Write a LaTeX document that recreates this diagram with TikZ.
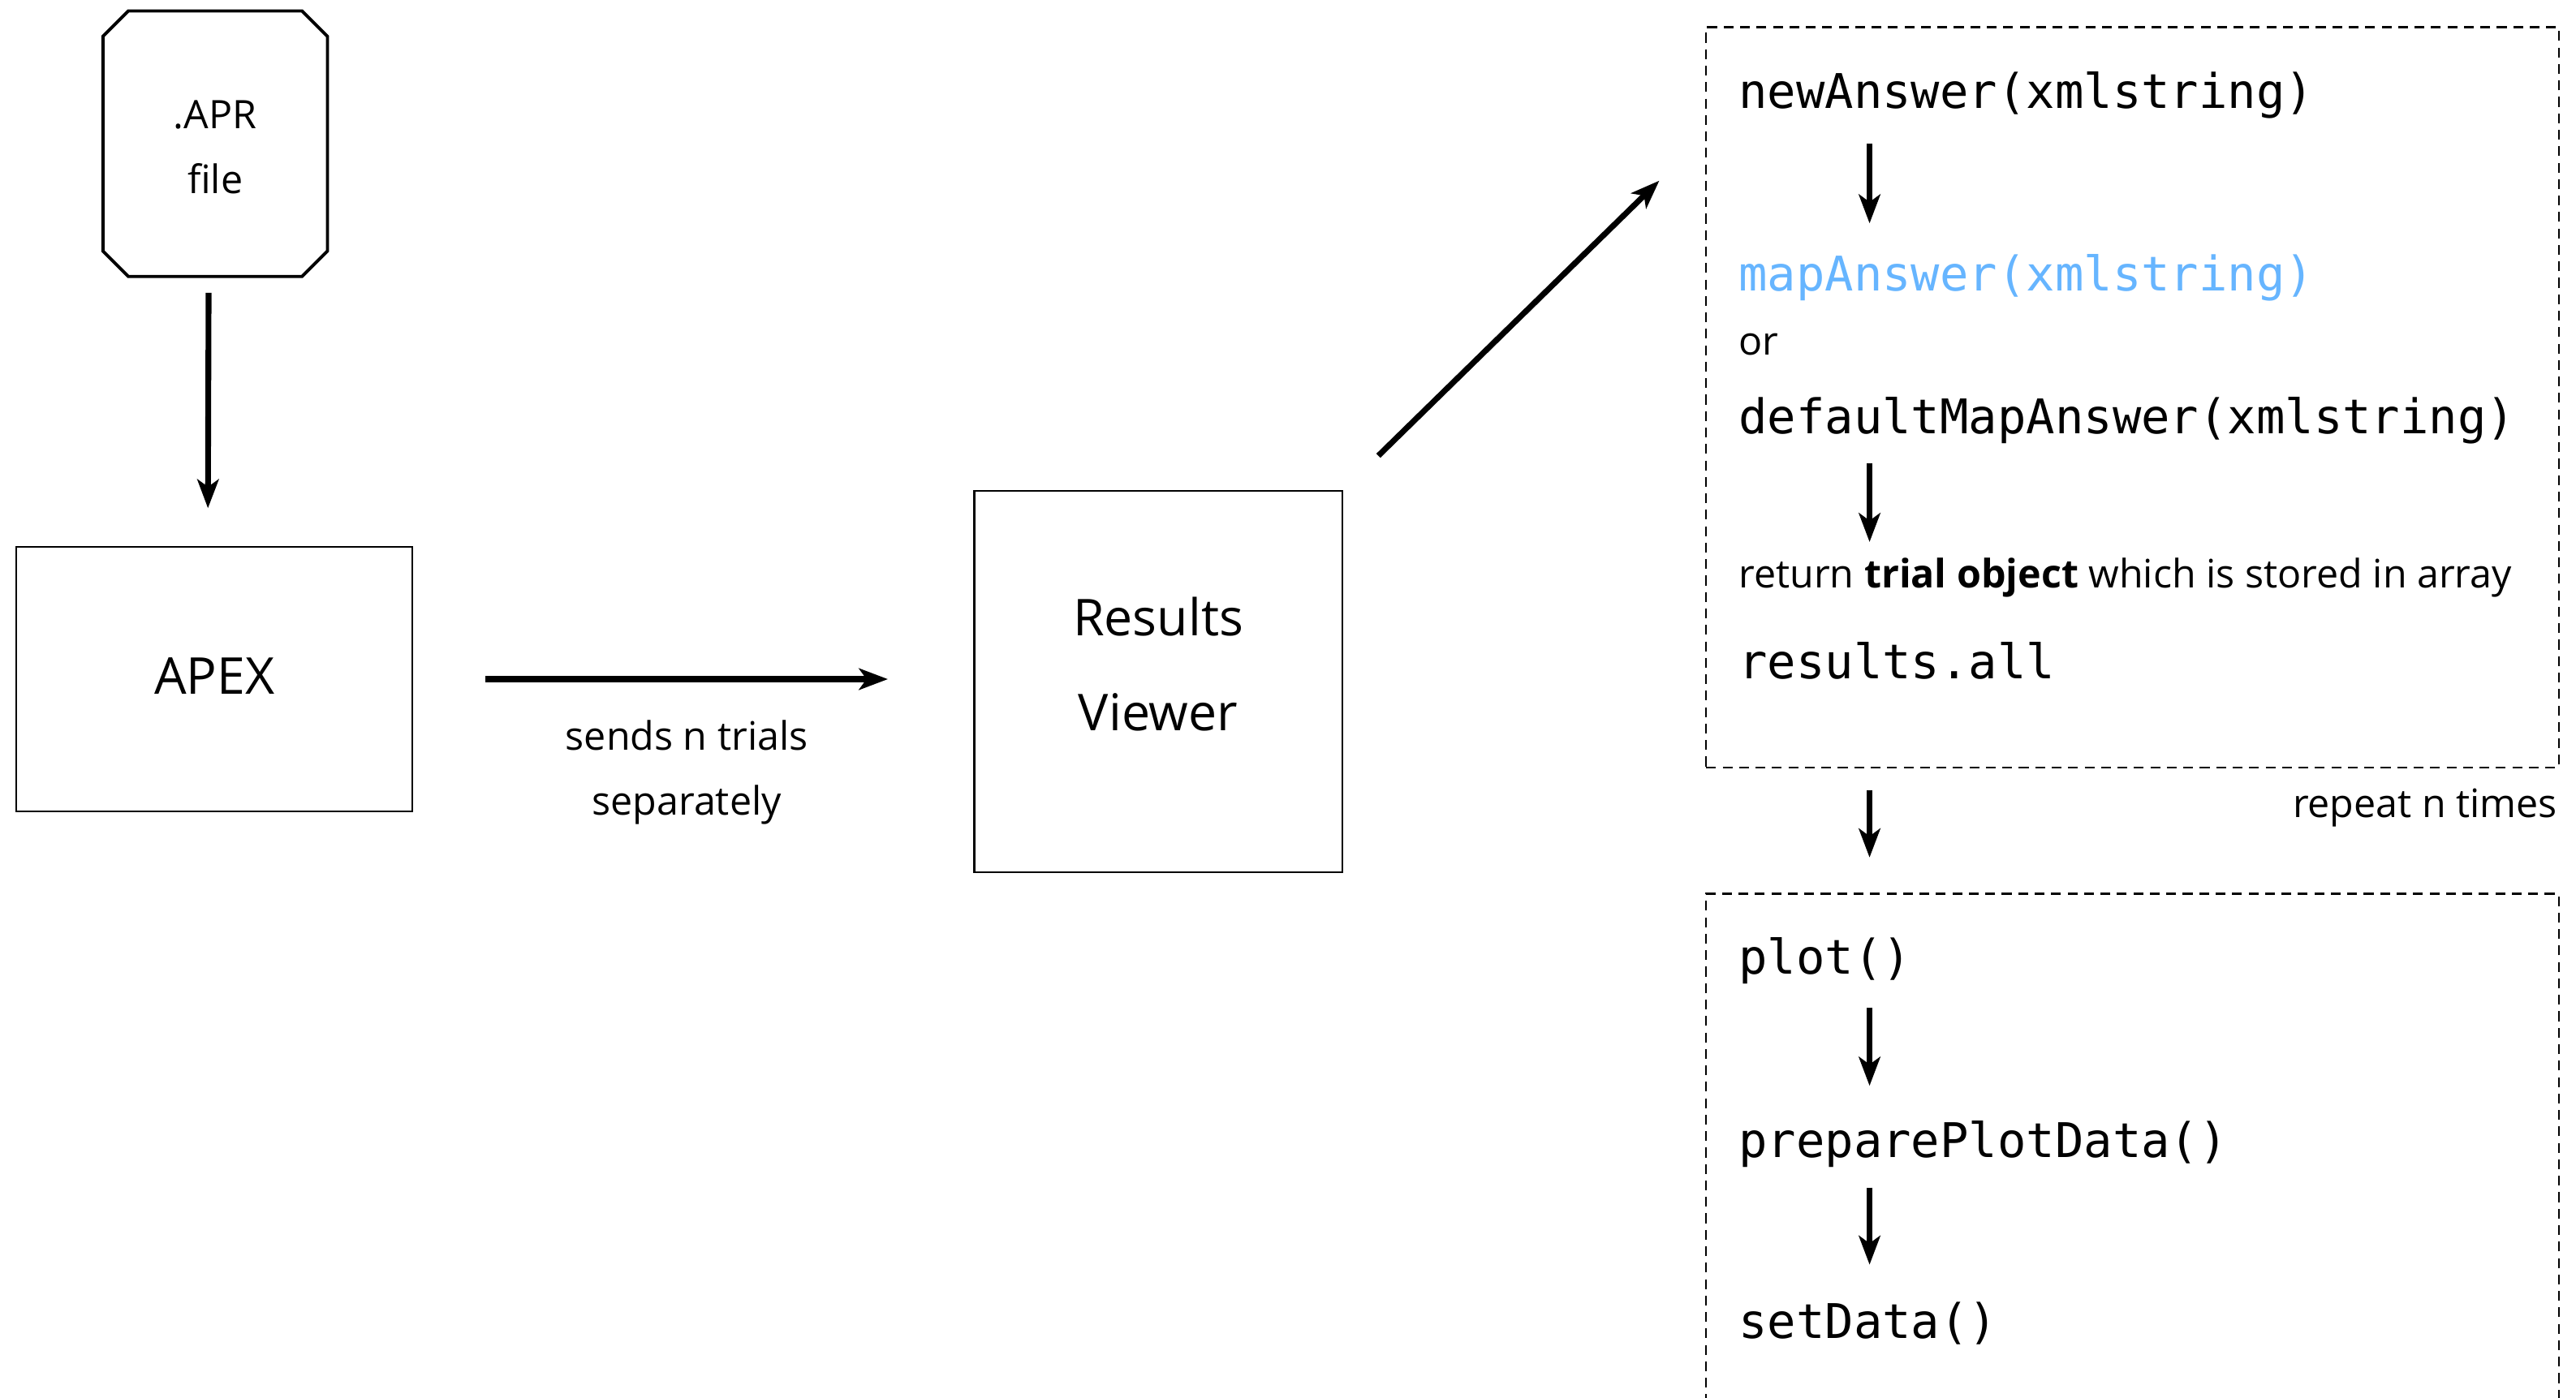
\documentclass[tikz,border=0pt]{standalone}
\usepackage{fontspec}
\setmainfont{Open Sans}
\newfontfamily\codefont{DejaVu Sans Mono}
\usetikzlibrary{arrows.meta,positioning}
\definecolor{mapblue}{RGB}{102,181,255}

\begin{document}
\begin{tikzpicture}[
    x=0.02cm, y=-0.02cm,
    box/.style={rectangle, draw=black, line width=0.65pt, inner sep=0pt},
    fileline/.style={draw=black, line width=1.1pt, line join=miter},
    loopbox/.style={rectangle, draw=black, line width=0.6pt,
                 dash pattern=on 3.4pt off 2.3pt, minimum width=10.38cm,
                 inner sep=0pt, anchor=north west},
    bigtxt/.style={font=\fontsize{17.6pt}{33pt}\selectfont, align=center, inner sep=0pt},
    txt/.style={font=\fontsize{13.6pt}{22.5pt}\selectfont, inner sep=0pt},
    code/.style={font=\codefont\fontsize{16.55pt}{20pt}\selectfont, inner sep=0pt,
                 anchor=base west},
    arr/.style={-{Stealth[length=10pt, width=7.4pt, inset=2.6pt]}, line width=2pt},
  ]
  \path[use as bounding box, fill=white] (0,0) rectangle (1568,851);

  \node[inner sep=0pt, minimum width=2.72cm, minimum height=3.22cm,
        label={[txt, align=center, yshift=-0.04cm]center:{.APR\\file}}] (apr) at (131,87.5) {};
  % cut corners of the file symbol
  \draw[fileline] ([xshift=0.31cm]apr.north west) -- ([xshift=-0.31cm]apr.north east)
    -- ([yshift=-0.31cm]apr.north east) -- ([yshift=0.31cm]apr.south east)
    -- ([xshift=-0.31cm]apr.south east) -- ([xshift=0.31cm]apr.south west)
    -- ([yshift=0.31cm]apr.south west) -- ([yshift=-0.31cm]apr.north west) -- cycle;

  \node[box, minimum width=4.82cm, minimum height=3.22cm,
        label={[bigtxt, yshift=0.04cm]center:APEX}] (apex) at (130.5,413.5) {};
  \node[box, minimum width=4.48cm, minimum height=4.64cm,
        label={[bigtxt, yshift=0.21cm]center:{Results\\Viewer}}] (rv) at (705,415) {};

  \node[loopbox, minimum height=9.02cm] (trialbox) at (1038,16) {};
  \node[loopbox, minimum height=8cm]    (plotbox)  at (1038,543.6) {};

  \node[code]                   (newans)   at (1058,66)  {newAnswer(xmlstring)};
  \node[code, text=mapblue]     (mapans)   at (1058,177) {mapAnswer(xmlstring)};
  \node[txt, anchor=base west]  (orword)   at (1058,216) {or};
  \node[code]                   (defmap)   at (1058,264) {defaultMapAnswer(xmlstring)};
  \node[txt, anchor=base west]  (trialret) at (1058,358) {return \textbf{trial object} which is stored in array};
  \node[code]                   (resall)   at (1058,413) {results.all};
  \node[txt, anchor=base east]  (reptxt)   at (1557,497.5) {repeat n times};

  \node[code] (plotfn) at (1058,593)   {plot()};
  \node[code] (prepfn) at (1058,704.6) {preparePlotData()};
  \node[code] (setfn)  at (1058,815)   {setData()};

  \coordinate (toloop) at (1010,110);

  \draw[arr, shorten <=0.2cm, shorten >=0.46cm] ([xshift=-0.08cm]apr.south) -- ([xshift=-0.08cm]apex.north);
  \draw[arr, shorten <=0.88cm, shorten >=1.04cm] (apex.east) --
    node[txt, align=center, below=0.47cm, xshift=-0.08cm] (sendlbl) {sends n trials\\separately}
    (apex.east -| rv.west);
  \draw[arr, shorten <=0.6cm] (rv.north east) -- (toloop);

  \draw[arr] ([xshift=1.6cm,yshift=-0.43cm]newans.base west) -- ([xshift=1.6cm,yshift=0.82cm]mapans.base west);
  \draw[arr] ([xshift=1.6cm,yshift=-0.36cm]defmap.base west) -- ([xshift=1.6cm,yshift=0.56cm]trialret.base west);
  \draw[arr, shorten <=0.26cm, shorten >=0.43cm] ([xshift=2cm]trialbox.south west) -- ([xshift=2cm]plotbox.north west);
  \draw[arr] ([xshift=1.6cm,yshift=-0.41cm]plotfn.base west) -- ([xshift=1.6cm,yshift=0.87cm]prepfn.base west);
  \draw[arr] ([xshift=1.6cm,yshift=-0.37cm]prepfn.base west) -- ([xshift=1.6cm,yshift=0.9cm]setfn.base west);
\end{tikzpicture}
\end{document}
